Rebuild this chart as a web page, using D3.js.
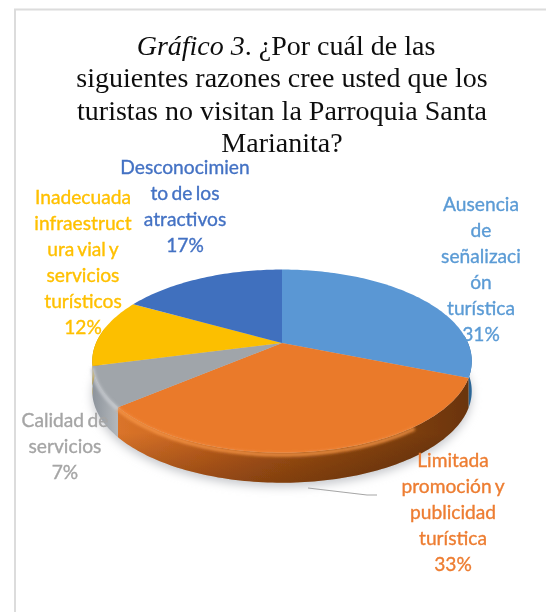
<!DOCTYPE html>
<html>
<head>
<meta charset="utf-8">
<script src="https://cdn.jsdelivr.net/npm/d3@7/dist/d3.min.js"></script>
<style>
html, body { margin: 0; padding: 0; background: #fff; }
svg { display: block; }
</style>
</head>
<body>
<div id="chart"></div>
<script>
// datos
var categories = ["Ausencia de señalización turística", "Limitada promoción y publicidad turística", "Calidad de servicios", "Inadecuada infraestructura vial y servicios turísticos", "Desconocimiento de los atractivos"];
var values = [31, 33, 7, 12, 17];
var colors = ["#5b9bd5", "#ed7d31", "#a5a5a5", "#ffc000", "#4472c4"];
var faceColors = ["#5a97d4", "#ea7a2c", "#a0a5aa", "#fcbf06", "#4070be"];
var sideDark = ["#1f4f78", "#6a3409", "#8d949c", "#b08500", "#2f5597"];
var sideLight = ["#2f6a9c", "#d8742a", "#b4b8bc", "#d9a404", "#2f5597"];
var titleLines = ["Gráfico 3", "siguientes razones cree usted que los", "turistas no visitan la Parroquia Santa", "Marianita?"];
var labelLines = [
    ["Ausencia", "de", "señalizaci", "ón", "turística", "31%"],
    ["Limitada", "promoción y", "publicidad", "turística", "33%"],
    ["Calidad de", "servicios", "7%"],
    ["Inadecuada", "infraestruct", "ura vial y", "servicios", "turísticos", "12%"],
    ["Desconocimien", "to de los", "atractivos", "17%"]
];
var labelPos = [[481, 211], [453, 467], [65, 427], [83, 204], [185, 174]];

var width = 546;
var height = 612;
var apexX = 282;
var apexY = 343;
var radius = 186;
var tilt = 88;
var persp = 0.198;
var depth = 30;

var svg = d3.select("#chart")
            .append("svg")
            .attr("width", width)
            .attr("height", height);

var defs = svg.append("defs");
defs.append("filter").attr("id", "soft").attr("x", "-20%").attr("y", "-20%").attr("width", "140%").attr("height", "140%")
    .append("feGaussianBlur").attr("stdDeviation", 0.7);
defs.append("filter").attr("id", "shadow").attr("x", "-20%").attr("y", "-40%").attr("width", "140%").attr("height", "180%")
    .append("feGaussianBlur").attr("stdDeviation", 5);
defs.append("filter").attr("id", "bevel").attr("x", "-20%").attr("y", "-20%").attr("width", "140%").attr("height", "140%")
    .append("feGaussianBlur").attr("stdDeviation", 1.6);
defs.append("filter").attr("id", "textsoft")
    .append("feGaussianBlur").attr("stdDeviation", 0.3);

// marco de la captura
svg.append("path")
   .attr("d", "M15," + height + "V9.5H" + width)
   .attr("fill", "none")
   .attr("stroke", "#dcdcdc")
   .attr("stroke-width", 2);

var pie = d3.pie().sort(null).value(function(d) { return d; });
var arcs = pie(values);

// proyeccion del disco con perspectiva
function project(a, drop) {
    var u = Math.sin(a);
    var v = Math.cos(a);
    var w = 1 + persp * v;
    return [apexX + radius * u / w, apexY - tilt * v / w + (drop || 0)];
}

function arcPoints(a0, a1, drop) {
    var n = Math.max(2, Math.ceil(Math.abs(a1 - a0) / 0.02));
    return d3.range(n + 1).map(function(i) {
        return project(a0 + (a1 - a0) * i / n, drop);
    });
}

var line = d3.line();
var sideMin = 85 * Math.PI / 180;
var sideMax = 280 * Math.PI / 180;
var pieG = svg.append("g").attr("filter", "url(#soft)");

// sombra bajo el pastel
svg.insert("path", "g")
   .attr("d", line(arcPoints(0, 2 * Math.PI, depth + 4)) + "Z")
   .attr("fill", "#c6c8cc")
   .attr("filter", "url(#shadow)");

// gradientes del lateral
arcs.forEach(function(d, i) {
    var g = defs.append("linearGradient").attr("id", "side" + i);
    if (i == 1) {
        g.attr("gradientUnits", "userSpaceOnUse")
         .attr("x1", project(d.startAngle, 0)[0]).attr("x2", project(d.endAngle, 0)[0]);
        g.append("stop").attr("offset", "0").attr("stop-color", "#6a3409");
        g.append("stop").attr("offset", "0.35").attr("stop-color", "#93490f");
        g.append("stop").attr("offset", "0.75").attr("stop-color", "#c4611c");
        g.append("stop").attr("offset", "1").attr("stop-color", "#da742a");
    } else {
        g.append("stop").attr("offset", "0").attr("stop-color", sideDark[i]);
        g.append("stop").attr("offset", "1").attr("stop-color", sideLight[i]);
    }
});
var shade = defs.append("linearGradient").attr("id", "shade")
                .attr("gradientUnits", "userSpaceOnUse")
                .attr("x1", 0).attr("x2", 0)
                .attr("y1", apexY + 90).attr("y2", apexY + 90 + depth + 50);
shade.append("stop").attr("offset", "0").attr("stop-color", "#000").attr("stop-opacity", 0);
shade.append("stop").attr("offset", "1").attr("stop-color", "#2a1000").attr("stop-opacity", 0.45);

function sidePath(d) {
    var a0 = Math.max(d.startAngle, sideMin);
    var a1 = Math.min(d.endAngle, sideMax);
    if (a1 <= a0) return null;
    return line(arcPoints(a0, a1, 0).concat(arcPoints(a1, a0, depth))) + "Z";
}

// laterales
pieG.selectAll("path.side")
    .data(arcs)
    .enter()
    .append("path")
    .attr("class", "side")
    .attr("fill", function(d, i) { return "url(#side" + i + ")"; })
    .attr("d", sidePath);

pieG.selectAll("path.shade")
    .data(arcs.slice(1, 2))
    .enter()
    .append("path")
    .attr("class", "shade")
    .attr("fill", "url(#shade)")
    .attr("d", sidePath);

// caras superiores
pieG.selectAll("path.face")
    .data(arcs)
    .enter()
    .append("path")
    .attr("class", "face")
    .attr("fill", function(d, i) { return faceColors[i]; })
    .attr("d", function(d) {
        return line([[apexX, apexY]].concat(arcPoints(d.startAngle, d.endAngle, 0))) + "Z";
    });

// brillo del borde frontal
pieG.selectAll("path.bevel")
    .data(arcs.slice(1, 3))
    .enter()
    .append("path")
    .attr("class", "bevel")
    .attr("fill", "none")
    .attr("stroke", function(d, i) { return i == 0 ? "#f79646" : "#c9ccd0"; })
    .attr("stroke-width", 3.5)
    .attr("stroke-opacity", 0.9)
    .attr("filter", "url(#bevel)")
    .attr("d", function(d, i) {
        var a0 = i == 0 ? d.startAngle + 0.55 : d.startAngle;
        return line(arcPoints(a0, d.endAngle, 2));
    });

// linea guia de la etiqueta
svg.append("path")
   .attr("d", line([[308, 488], [367, 495], [377, 495]]))
   .attr("fill", "none")
   .attr("stroke", "#a6a6a6")
   .attr("stroke-width", 1.2);

// titulo
var title = svg.append("g")
               .attr("font-family", "'Liberation Serif', serif")
               .attr("font-size", 28)
               .attr("fill", "#111")
               .attr("text-anchor", "middle")
               .attr("filter", "url(#textsoft)");

var first = title.append("text").attr("x", 286).attr("y", 55);
first.append("tspan").attr("font-style", "italic").text(titleLines[0]);
first.append("tspan").text(". ¿Por cuál de las");

title.selectAll("text.rest")
     .data(titleLines.slice(1))
     .enter()
     .append("text")
     .attr("class", "rest")
     .attr("x", 282)
     .attr("y", function(d, i) { return 87 + i * 32.5; })
     .text(function(d) { return d; });

// etiquetas
var labels = svg.append("g")
                .attr("font-family", "Lato, sans-serif")
                .attr("font-size", 19.2)
                .attr("text-anchor", "middle")
                .attr("word-spacing", -1.5)
                .attr("stroke-width", 0.35)
                .attr("filter", "url(#textsoft)");

labelLines.forEach(function(lines, i) {
    labels.selectAll("text.l" + i)
          .data(lines)
          .enter()
          .append("text")
          .attr("class", "l" + i)
          .attr("x", labelPos[i][0])
          .attr("y", function(d, j) { return labelPos[i][1] + j * 26; })
          .attr("fill", colors[i])
          .attr("stroke", colors[i])
          .text(function(d) { return d; });
});
</script>
</body>
</html>
